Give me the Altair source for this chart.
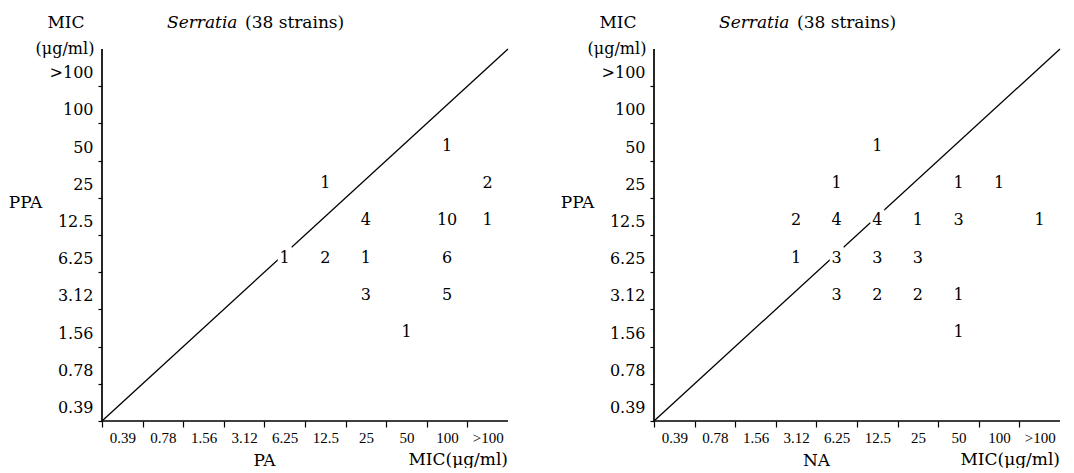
import json
import altair as alt
import pandas as pd

SERIF = "DejaVu Serif"
SERIF_NARROW = "Liberation Serif"

# MIC levels (µg/ml), shared by both axes
levels = ["0.39", "0.78", "1.56", "3.12", "6.25", "12.5", "25", "50", "100", ">100"]

# Panel 1: PA (x) vs PPA (y)
pa_x = ["100", "12.5", ">100", "25", "100", ">100", "6.25", "12.5", "25", "100", "25", "100", "50"]
pa_y = ["50", "25", "25", "12.5", "12.5", "12.5", "6.25", "6.25", "6.25", "6.25", "3.12", "3.12", "1.56"]
pa_n = [1, 1, 2, 4, 10, 1, 1, 2, 1, 6, 3, 5, 1]

# Panel 2: NA (x) vs PPA (y)
na_x = ["12.5", "6.25", "50", "100", "3.12", "6.25", "12.5", "25", "50", ">100",
        "3.12", "6.25", "12.5", "25", "6.25", "12.5", "25", "50", "50"]
na_y = ["50", "25", "25", "25", "12.5", "12.5", "12.5", "12.5", "12.5", "12.5",
        "6.25", "6.25", "6.25", "6.25", "3.12", "3.12", "3.12", "3.12", "1.56"]
na_n = [1, 1, 1, 1, 2, 4, 4, 1, 3, 1, 1, 3, 3, 3, 3, 2, 2, 1, 1]

title_genus = "Serratia"
title_rest = "(38 strains)"
y_name = "PPA"
unit_top = ["MIC", "(\u03bcg/ml)"]
unit_bottom = "MIC(\u03bcg/ml)"

W, H = 406, 372
K = len(levels)
LV = json.dumps(levels)


def ann(text, x, y, **kw):
    return alt.Chart(pd.DataFrame({"t": [text]})).mark_text(
        color="black", baseline="middle", **kw
    ).encode(x=alt.value(x), y=alt.value(y), text="t:N")


def panel(xs, ys, ns, xname):
    df = pd.DataFrame({"x": xs, "y": ys, "n": ns})
    xsc = alt.Scale(domain=[0, K], nice=False, zero=False)
    ysc = alt.Scale(domain=[0, K], nice=False, zero=False)
    label_expr = f"{LV}[datum.value] || ''"
    xaxis = alt.Axis(
        orient="bottom", title=xname, values=list(range(K)), labelExpr=label_expr,
        labelOffset=W / K / 2, labelOverlap=False, labelFlush=False, labelBound=False,
        domain=False, grid=False,
        labelFont=SERIF_NARROW, labelFontSize=15, labelPadding=3, tickSize=6,
        titleFont=SERIF, titleFontSize=17, titleX=162, titleY=39, titleAlign="center",
        titleBaseline="middle", titleFontWeight="normal")
    yaxis = alt.Axis(
        orient="left", title=y_name, values=list(range(K)), labelExpr=label_expr,
        labelOffset=-H / K / 2 + 5, labelOverlap=False, labelFlush=False, labelBound=False,
        domain=False, grid=False,
        labelFont=SERIF, labelFontSize=16, labelPadding=5, tickSize=4, labelBaseline="middle",
        titleAngle=0, titleFont=SERIF, titleFontSize=17, titleX=-77, titleY=153,
        titleAlign="center", titleBaseline="middle", titleFontWeight="normal")

    diag = alt.Chart(pd.DataFrame({"u": [0, K]})).mark_line(
        color="black", strokeWidth=1.3
    ).encode(
        x=alt.X("u:Q", scale=xsc, axis=xaxis),
        y=alt.Y("u:Q", scale=ysc, axis=yaxis),
    )
    # L-shaped axis frame drawn as a polyline through the domain extents
    frame = pd.DataFrame({"fx": [0, 0, K], "fy": [K, 0, 0], "o": [0, 1, 2]})
    axes_line = alt.Chart(frame).mark_line(
        color="black", strokeWidth=1.7, strokeJoin="miter"
    ).encode(
        x=alt.X("fx:Q", scale=xsc), y=alt.Y("fy:Q", scale=ysc), order="o:Q",
    )
    base = alt.Chart(df).transform_calculate(
        xi=f"indexof({LV}, datum.x) + 0.5",
        yi=f"indexof({LV}, datum.y) + 0.5",
    )
    masks = base.mark_square(size=200, color="white", opacity=1, filled=True).encode(
        x=alt.X("xi:Q", scale=xsc), y=alt.Y("yi:Q", scale=ysc),
    )
    counts = base.mark_text(
        font=SERIF, fontSize=16, color="black", baseline="middle", dy=4
    ).encode(
        x=alt.X("xi:Q", scale=xsc), y=alt.Y("yi:Q", scale=ysc), text="n:Q",
    )
    anns = [
        ann(unit_top[0], -36, -26, font=SERIF, fontSize=17, align="center"),
        ann(unit_top[1], -37, 0, font=SERIF, fontSize=16, align="center"),
        ann(title_genus, 65, -26, font=SERIF, fontSize=17, align="left", fontStyle="italic"),
        ann(title_rest, 143, -26, font=SERIF, fontSize=17, align="left"),
        ann(unit_bottom, W, H + 39, font=SERIF, fontSize=17, align="right"),
    ]
    return alt.layer(diag, masks, counts, *anns, axes_line).properties(width=W, height=H)


chart = alt.hconcat(
    panel(pa_x, pa_y, pa_n, "PA"),
    panel(na_x, na_y, na_n, "NA"),
    spacing=48,
).properties(
    padding={"left": 0, "right": 0, "top": 6, "bottom": 0}
).configure_view(strokeWidth=0).configure_axis(
    tickColor="black", tickWidth=1.2,
    labelColor="black", titleColor="black", grid=False,
)

chart.save("out.html", embed_options={"renderer": "svg", "actions": False})
